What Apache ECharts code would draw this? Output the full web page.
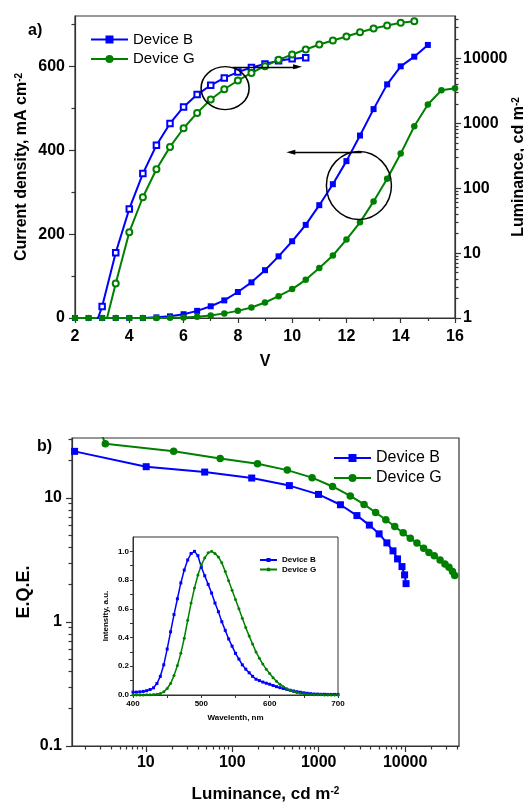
<!DOCTYPE html>
<html>
<head>
<meta charset="utf-8">
<script src="https://cdn.jsdelivr.net/npm/echarts@6/dist/echarts.min.js"></script>
<style>
  html, body { margin: 0; padding: 0; background: #fff; }
  #chart { width: 524px; height: 805px; }
</style>
</head>
<body>
<div id="chart"></div>
<script>
// ---- panel a: current density (left) and luminance (right) vs voltage
const voltsJB = [2, 2.5, 3, 3.5, 4, 4.5, 5, 5.5, 6, 6.5, 7, 7.5, 8, 8.5, 9, 9.5, 10, 10.5, 11, 11.5, 12, 12.5, 13, 13.5, 14, 14.5, 15]
const currentB = [0, 0, 0, 0, 0, 0, 1.5, 4, 9, 17, 28, 42, 62, 85, 114, 147, 183, 222, 269, 319, 374, 435, 498, 557, 600, 623, 651]
const voltsJG = [2, 2.5, 3, 3.5, 4, 4.5, 5, 5.5, 6, 6.5, 7, 7.5, 8, 8.5, 9, 9.5, 10, 10.5, 11, 11.5, 12, 12.5, 13, 13.5, 14, 14.5, 15, 15.5, 16]
const currentG = [0, 0, 0, 0, 0, 0, 0, 0.3, 1, 3, 6, 11, 17, 25, 37, 52, 69, 91, 119, 149, 187, 228, 278, 332, 392, 457, 509, 543, 548]

const voltsLB = [2.5, 3, 3.5, 4, 4.5, 5, 5.5, 6, 6.5, 7, 7.5, 8, 8.5, 9, 9.5, 10, 10.5]
const lumB = [0.4, 1.5, 10.1, 48, 168, 458, 995, 1785, 2770, 3855, 5000, 6150, 7240, 8170, 9200, 9860, 10250]
const voltsLG = [3, 3.5, 4, 4.5, 5, 5.5, 6, 6.5, 7, 7.5, 8, 8.5, 9, 9.5, 10, 10.5, 11, 11.5, 12, 12.5, 13, 13.5, 14, 14.5]
const lumG = [0.5, 3.4, 21, 72.5, 196, 433, 839, 1446, 2320, 3350, 4560, 5980, 7590, 9490, 11470, 13700, 16370, 18850, 21730, 25350, 28850, 32130, 35300, 37450]

// ---- panel b: EQE at the same luminance points
const eqeB = [null, 23.8, 17.9, 16.2, 14.5, 12.6, 10.7, 8.83, 7.22, 6.05, 5.14, 4.35, 3.75, 3.23, 2.8, 2.4, 2.04]
const eqeG = [880, 27.4, 23.8, 20.8, 18.9, 16.8, 14.6, 12.4, 10.4, 8.88, 7.65, 6.68, 5.89, 5.24, 4.75, 4.33, 3.94, 3.63, 3.42, 3.17, 2.94, 2.77, 2.55, 2.37]

// ---- inset: EL spectra
const wavelength = [400, 405, 410, 415, 420, 425, 430, 435, 440, 445, 450, 455, 460, 465, 470, 475, 480, 485, 490, 495,
  500, 505, 510, 515, 520, 525, 530, 535, 540, 545, 550, 555, 560, 565, 570, 575, 580, 585, 590, 595,
  600, 605, 610, 615, 620, 625, 630, 635, 640, 645, 650, 655, 660, 665, 670, 675, 680, 685, 690, 695, 700]
const specB = [0.02, 0.02, 0.022, 0.025, 0.03, 0.038, 0.05, 0.08, 0.13, 0.21, 0.32, 0.44, 0.56, 0.67, 0.78, 0.87, 0.94, 0.985, 1.0, 0.97,
  0.89, 0.83, 0.77, 0.71, 0.64, 0.58, 0.51, 0.45, 0.39, 0.34, 0.29, 0.25, 0.21, 0.18, 0.155, 0.13, 0.11, 0.1, 0.09, 0.082,
  0.075, 0.066, 0.058, 0.051, 0.045, 0.039, 0.033, 0.028, 0.023, 0.019, 0.015, 0.012, 0.009, 0.007, 0.006, 0.005, 0.005, 0.004, 0.004, 0.004, 0.004]
const specG = [0, 0, 0, 0, 0.001, 0.002, 0.003, 0.005, 0.01, 0.022, 0.045, 0.08, 0.135, 0.205, 0.29, 0.395, 0.52, 0.64, 0.745, 0.835,
  0.905, 0.955, 0.99, 1.0, 0.985, 0.96, 0.92, 0.86, 0.795, 0.73, 0.665, 0.6, 0.535, 0.47, 0.41, 0.355, 0.3, 0.255, 0.215, 0.18,
  0.15, 0.12, 0.095, 0.075, 0.058, 0.044, 0.033, 0.024, 0.017, 0.012, 0.008, 0.005, 0.003, 0.002, 0.001, 0.001, 0, 0, 0, 0, 0]

// tick positions
const jMajor = [0, 200, 400, 600]
const jMinor = [100, 300, 500, 700]
const lumMajor = [1, 10, 100, 1000, 10000]
const lumMinorA = [2, 3, 4, 5, 6, 7, 8, 9, 20, 30, 40, 50, 60, 70, 80, 90, 200, 300, 400, 500, 600, 700, 800, 900,
  2000, 3000, 4000, 5000, 6000, 7000, 8000, 9000, 20000, 30000, 40000]
const lumMajorB = [10, 100, 1000, 10000]
const lumMinorB = [2, 3, 4, 5, 6, 7, 8, 9, 20, 30, 40, 50, 60, 70, 80, 90, 200, 300, 400, 500, 600, 700, 800, 900,
  2000, 3000, 4000, 5000, 6000, 7000, 8000, 9000, 20000, 30000, 40000]
const eqeMajor = [0.1, 1, 10]
const eqeMinor = [0.2, 0.3, 0.4, 0.5, 0.6, 0.7, 0.8, 0.9, 2, 3, 4, 5, 6, 7, 8, 9, 20, 30]
const wlTicks = [400, 450, 500, 550, 600, 650, 700]
const intLabels = [0, 0.2, 0.4, 0.6, 0.8, 1.0]
const intTicks = [0, 0.1, 0.2, 0.3, 0.4, 0.5, 0.6, 0.7, 0.8, 0.9, 1.0]

// annotations (data units of panel a, left axis)
const ringCenters = [[7.53, 548], [12.46, 316]]
const ringSizes = [[48, 43], [65, 68]]
const arrows = [[[7.8, 599], [10.2, 599]], [[12.56, 395], [9.95, 395]]]

const FONT = '"Liberation Sans", Arial, Helvetica, sans-serif'
const BLUE = '#0000ff'
const GREEN = '#008000'
const AXIS = '#333'

const zip = (xs, ys) => xs.map((x, i) => [x, ys[i]])
const fmt = (v) => String(+(+v).toPrecision(6))
const legendName = (name) => 'Device ' + name.charAt(0)

const labelBig = { fontSize: 16, fontWeight: 'bold', color: '#000', fontFamily: FONT }
const labelSmall = { fontSize: 8, fontWeight: 'bold', color: '#000', fontFamily: FONT }
const supRich = { sup: { fontSize: 10, fontWeight: 'bold', fontFamily: FONT, verticalAlign: 'top', color: '#000' } }
const axisLine = { show: true, lineStyle: { color: AXIS, width: 1.2 } }

function tickAxis(base, ticks, len) {
  // overlay axis that only draws tick marks
  return Object.assign({
    axisLine: { show: false },
    axisLabel: { show: false },
    splitLine: { show: false },
    axisTick: { show: true, length: len, customValues: ticks, lineStyle: { color: AXIS, width: 1.2 } },
  }, base)
}

const chart = echarts.init(document.getElementById('chart'), null, { renderer: 'canvas' })

chart.setOption({
  animation: false,
  backgroundColor: '#fff',
  textStyle: { fontFamily: FONT },
  grid: [
    { left: 75, top: 16, width: 380, height: 302, show: true, borderColor: AXIS, borderWidth: 1.2, outerBoundsMode: 'none' },
    { left: 72, top: 438, width: 387, height: 308, show: true, borderColor: AXIS, borderWidth: 1.2, outerBoundsMode: 'none' },
    { left: 133, top: 537, width: 205, height: 158, show: true, borderColor: AXIS, borderWidth: 1, backgroundColor: '#fff', outerBoundsMode: 'none' },
  ],
  legend: [
    {
      data: ['B-J', 'G-J'], formatter: legendName, orient: 'vertical', left: 90, top: 32, padding: 0,
      itemWidth: 37, itemHeight: 10, itemGap: 4.5, selectedMode: false,
      textStyle: { fontSize: 15, color: '#000', fontFamily: FONT },
    },
    {
      data: ['B-EQE', 'G-EQE'], formatter: legendName, orient: 'vertical', left: 333, top: 450, padding: 0,
      itemWidth: 37, itemHeight: 10, itemGap: 4, selectedMode: false,
      textStyle: { fontSize: 16, color: '#000', fontFamily: FONT },
    },
    {
      data: ['B-spec', 'G-spec'], formatter: legendName, orient: 'vertical', left: 259, top: 556, padding: 0,
      itemWidth: 17, itemHeight: 5, itemGap: 1.5, selectedMode: false,
      textStyle: { fontSize: 8, fontWeight: 'bold', color: '#000', fontFamily: FONT },
    },
  ],
  xAxis: [
    {
      gridIndex: 0, type: 'value', position: 'bottom', min: 2, max: 16, interval: 2,
      name: 'V', nameLocation: 'middle', nameGap: 36, nameMoveOverlap: false, nameTextStyle: labelBig,
      axisLine, splitLine: { show: false },
      axisTick: { length: 5, lineStyle: { color: AXIS, width: 1.2 } },
      minorTick: { show: true, splitNumber: 2, length: 3, lineStyle: { color: AXIS, width: 1.2 } },
      axisLabel: Object.assign({ margin: 11 }, labelBig),
    },
    {
      gridIndex: 1, type: 'log', logBase: 10, position: 'bottom', min: 1.4, max: 42000,
      name: 'Luminance, cd m{sup|-2}', nameLocation: 'middle', nameGap: 40, nameMoveOverlap: false,
      nameTextStyle: Object.assign({ rich: supRich }, labelBig, { fontSize: 17 }),
      axisLine, splitLine: { show: false },
      axisTick: { length: 6, customValues: lumMajorB, lineStyle: { color: AXIS, width: 1.2 } },
      axisLabel: Object.assign({ margin: 9, customValues: lumMajorB, formatter: fmt }, labelBig),
    },
    tickAxis({ gridIndex: 1, type: 'log', logBase: 10, position: 'bottom', min: 1.4, max: 42000 }, lumMinorB, 3.5),
    {
      gridIndex: 2, type: 'value', position: 'bottom', min: 400, max: 700, interval: 100,
      name: 'Wavelenth, nm', nameLocation: 'middle', nameGap: 19, nameMoveOverlap: false, nameTextStyle: labelSmall,
      axisLine: { show: true, lineStyle: { color: AXIS, width: 1 } }, splitLine: { show: false },
      axisTick: { length: 3, customValues: wlTicks, lineStyle: { color: AXIS, width: 1 } },
      axisLabel: Object.assign({ margin: 5 }, labelSmall),
    },
  ],
  yAxis: [
    {
      gridIndex: 0, type: 'value', position: 'left', min: 0, max: 720,
      name: 'Current density, mA cm{sup|-2}', nameLocation: 'middle', nameRotate: 90, nameGap: 45, nameMoveOverlap: false,
      nameTextStyle: Object.assign({ rich: supRich }, labelBig),
      axisLine, splitLine: { show: false },
      axisTick: { length: 6, customValues: jMajor, lineStyle: { color: AXIS, width: 1.2 } },
      axisLabel: Object.assign({ margin: 10, customValues: jMajor, formatter: fmt }, labelBig),
    },
    {
      gridIndex: 0, type: 'log', logBase: 10, position: 'right', min: 1, max: 45000,
      name: 'Luminance, cd m{sup|-2}', nameLocation: 'middle', nameRotate: 90, nameGap: 56, nameMoveOverlap: false,
      nameTextStyle: Object.assign({ rich: supRich }, labelBig),
      axisLine, splitLine: { show: false },
      axisTick: { length: 6, customValues: lumMajor, lineStyle: { color: AXIS, width: 1.2 } },
      axisLabel: Object.assign({ margin: 8, customValues: lumMajor, formatter: fmt }, labelBig),
    },
    tickAxis({ gridIndex: 0, type: 'value', position: 'left', min: 0, max: 720 }, jMinor, 3.5),
    tickAxis({ gridIndex: 0, type: 'log', logBase: 10, position: 'right', min: 1, max: 45000 }, lumMinorA, 3.5),
    {
      gridIndex: 1, type: 'log', logBase: 10, position: 'left', min: 0.1, max: 30.5,
      name: 'E.Q.E.', nameLocation: 'middle', nameRotate: 90, nameGap: 39, nameMoveOverlap: false,
      nameTextStyle: Object.assign({}, labelBig, { fontSize: 18 }),
      axisLine, splitLine: { show: false },
      axisTick: { length: 6, customValues: eqeMajor, lineStyle: { color: AXIS, width: 1.2 } },
      axisLabel: Object.assign({ margin: 10, customValues: eqeMajor, formatter: fmt }, labelBig),
    },
    tickAxis({ gridIndex: 1, type: 'log', logBase: 10, position: 'left', min: 0.1, max: 30.5 }, eqeMinor, 3.5),
    {
      gridIndex: 2, type: 'value', position: 'left', min: 0, max: 1.1,
      name: 'Intensity, a.u.', nameLocation: 'middle', nameRotate: 90, nameGap: 23, nameMoveOverlap: false, nameTextStyle: labelSmall,
      axisLine: { show: true, lineStyle: { color: AXIS, width: 1 } }, splitLine: { show: false },
      axisTick: { length: 3, customValues: intTicks, lineStyle: { color: AXIS, width: 1 } },
      axisLabel: Object.assign({ margin: 4, customValues: intLabels, formatter: (v) => (+v).toFixed(1) }, labelSmall),
    },
  ],
  graphic: [
    { type: 'text', left: 28, top: 23, style: { text: 'a)', font: 'bold 16px ' + FONT, fill: '#000' } },
    { type: 'text', left: 37, top: 439, style: { text: 'b)', font: 'bold 16px ' + FONT, fill: '#000' } },
  ],
  series: [
    {
      name: 'B-J', type: 'line', xAxisIndex: 0, yAxisIndex: 0, data: zip(voltsJB, currentB),
      color: BLUE, symbol: 'rect', symbolSize: 6, lineStyle: { width: 2 },
      markPoint: {
        silent: true, animation: false, symbol: 'circle', label: { show: false },
        itemStyle: { color: 'rgba(0,0,0,0)', borderColor: '#000', borderWidth: 1.5 },
        data: ringCenters.map((c, i) => ({ coord: c, symbolSize: ringSizes[i] })),
      },
      markLine: {
        silent: true, animation: false, symbol: ['none', 'triangle'], symbolSize: [5, 9],
        label: { show: false },
        lineStyle: { color: '#000', type: 'solid', width: 1.3 },
        data: arrows.map(([a, b]) => [{ coord: a }, { coord: b }]),
      },
    },
    {
      name: 'G-J', type: 'line', xAxisIndex: 0, yAxisIndex: 0, data: zip(voltsJG, currentG),
      color: GREEN, symbol: 'circle', symbolSize: 6.5, lineStyle: { width: 2 },
    },
    {
      name: 'B-L', type: 'line', xAxisIndex: 0, yAxisIndex: 1, data: zip(voltsLB, lumB),
      color: BLUE, symbol: 'emptyRect', symbolSize: 5.5, lineStyle: { width: 2 },
      itemStyle: { borderWidth: 1.3 },
    },
    {
      name: 'G-L', type: 'line', xAxisIndex: 0, yAxisIndex: 1, data: zip(voltsLG, lumG),
      color: GREEN, symbol: 'emptyCircle', symbolSize: 6, lineStyle: { width: 2 },
      itemStyle: { borderWidth: 1.3 },
    },
    {
      name: 'B-EQE', type: 'line', xAxisIndex: 1, yAxisIndex: 4, data: zip(lumB, eqeB),
      color: BLUE, symbol: 'rect', symbolSize: 7, lineStyle: { width: 2 },
    },
    {
      name: 'G-EQE', type: 'line', xAxisIndex: 1, yAxisIndex: 4, data: zip(lumG, eqeG),
      color: GREEN, symbol: 'circle', symbolSize: 7.5, lineStyle: { width: 2 },
    },
    {
      name: 'B-spec', type: 'line', xAxisIndex: 3, yAxisIndex: 6, data: zip(wavelength, specB),
      color: BLUE, symbol: 'rect', symbolSize: 3, lineStyle: { width: 1.5 },
    },
    {
      name: 'G-spec', type: 'line', xAxisIndex: 3, yAxisIndex: 6, data: zip(wavelength, specG),
      color: GREEN, symbol: 'circle', symbolSize: 3, lineStyle: { width: 1.5 },
    },
  ],
})
</script>
</body>
</html>
